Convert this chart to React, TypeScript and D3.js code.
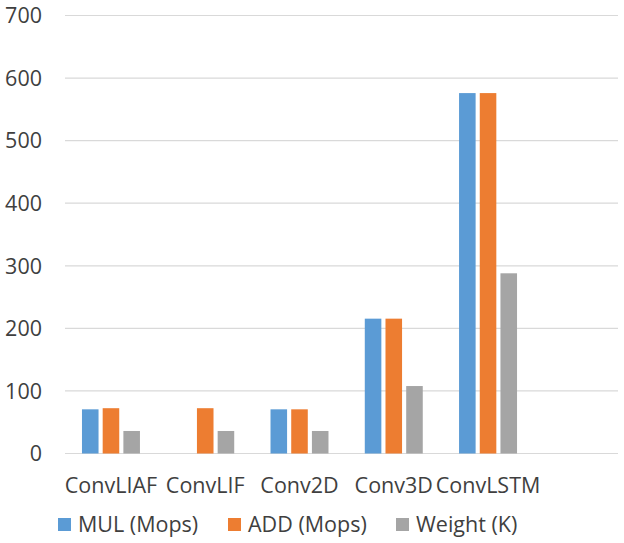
import { useMemo } from "react";
import * as d3 from "d3";

const categories = ["ConvLIAF", "ConvLIF", "Conv2D", "Conv3D", "ConvLSTM"];
const seriesNames = ["MUL (Mops)", "ADD (Mops)", "Weight (K)"];
const mulValues: (number | null)[] = [70.6, null, 70.6, 215.5, 576];
const addValues: (number | null)[] = [72.4, 72.4, 70.6, 215.5, 576];
const weightValues: (number | null)[] = [36, 36, 36, 107.8, 288];
const yTicks = [0, 100, 200, 300, 400, 500, 600, 700];

const colors = ["#5b9bd5", "#ed7d31", "#a5a5a5"];

const width = 624;
const height = 543;
const plot = { left: 65, right: 618, top: 15.5, bottom: 453.5 };
const bandEnd = 534; // category area stops short of the grid's right edge
const legendX = [58, 228, 396];
const font = "'Open Sans', 'Noto Sans', sans-serif";
const fontSize = 21.5;
const textColor = "#3f3f3f";

export default function App() {
    const series = [mulValues, addValues, weightValues];

    const xScale = useMemo(
        () => d3.scaleBand<string>().domain(categories).range([plot.left, bandEnd]).paddingInner(0.385).paddingOuter(0.18),
        []
    );
    const inner = useMemo(
        () => d3.scaleBand<string>().domain(seriesNames).range([0, xScale.bandwidth()]).paddingInner(0.2),
        [xScale]
    );
    const yScale = useMemo(() => d3.scaleLinear().domain([0, 700]).range([plot.bottom, plot.top]), []);

    return (
        <svg width={width} height={height} style={{ position: "absolute", left: 0, top: 0, background: "#fff" }} fontFamily={font}>
            {/* grid lines */}
            {yTicks.map((v) => (
                <line key={`g-${v}`} x1={plot.left} x2={plot.right} y1={yScale(v)} y2={yScale(v)} stroke="#d9d9d9" strokeWidth={1.2} />
            ))}

            {/* y tick labels */}
            {yTicks.map((v) => (
                <text key={`yt-${v}`} x={42} y={yScale(v)} dy="0.36em" textAnchor="end" fontSize={fontSize} fill={textColor}>
                    {v}
                </text>
            ))}

            {/* bars */}
            {series.map((vals, si) =>
                vals.map((v, ci) =>
                    v == null ? null : (
                        <rect
                            key={`b-${si}-${ci}`}
                            x={(xScale(categories[ci]) ?? 0) + (inner(seriesNames[si]) ?? 0)}
                            y={yScale(v)}
                            width={inner.bandwidth()}
                            height={yScale(0) - yScale(v)}
                            fill={colors[si]}
                        />
                    )
                )
            )}

            {/* category labels */}
            {categories.map((c) => (
                <text key={`xc-${c}`} x={(xScale(c) ?? 0) + xScale.bandwidth() / 2} y={493} textAnchor="middle" fontSize={fontSize} fill={textColor}>
                    {c}
                </text>
            ))}

            {/* legend */}
            {seriesNames.map((name, i) => (
                <g key={`lg-${i}`} transform={`translate(${legendX[i]},518)`}>
                    <rect x={0} y={0} width={13} height={13} fill={colors[i]} />
                    <text x={20} y={13.5} fontSize={fontSize} fill={textColor}>
                        {name}
                    </text>
                </g>
            ))}
        </svg>
    );
}
